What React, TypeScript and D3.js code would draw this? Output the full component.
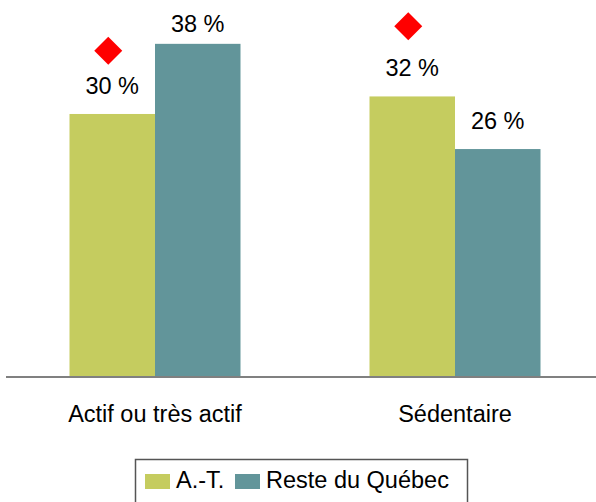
import React from "react";
import * as d3 from "d3";

const categories = ["Actif ou très actif", "Sédentaire"];
const seriesNames = ["A.-T.", "Reste du Québec"];
const atValues = [30, 32];
const resteValues = [38, 26];
const markerValues = [37.2, 40.0];
const colors = ["#C5CC5F", "#62959A"];

const W = 596;
const H = 502;
const FONT = "'Liberation Sans', Arial, sans-serif";

export default function App() {
  const y = d3.scaleLinear().domain([0, 43]).range([377, 0]);
  const x0 = d3.scaleBand<string>().domain(categories).range([5, 605]).padding(0);
  const inner = 171;
  const x1 = d3
    .scaleBand<string>()
    .domain(seriesNames)
    .range([(x0.bandwidth() - inner) / 2, (x0.bandwidth() + inner) / 2])
    .padding(0);
  const series = [atValues, resteValues];
  const diamond = d3.symbol().type(d3.symbolDiamond2).size(500)();

  return (
    <svg
      width={W}
      height={H}
      style={{ position: "absolute", left: 0, top: 0, background: "#fff" }}
      fontFamily={FONT}
    >
      {categories.map((c, ci) => (
        <g key={c} transform={`translate(${x0(c)},0)`}>
          {seriesNames.map((s, si) => {
            const v = series[si][ci];
            const bx = x1(s)!;
            const bw = x1.bandwidth();
            return (
              <g key={s}>
                <rect x={bx} y={y(v)} width={bw} height={y(0) - y(v)} fill={colors[si]} />
                <text
                  x={bx + bw / 2}
                  y={Math.max(y(v) - 20, 32)}
                  textAnchor="middle"
                  fontSize={23.5}
                  fill="#000"
                >
                  {`${v} %`}
                </text>
              </g>
            );
          })}
          <path
            d={diamond!}
            transform={`translate(${x1(seriesNames[0])! + x1.bandwidth() / 2 - 4},${y(markerValues[ci])})`}
            fill="#FF0000"
          />
          <text
            x={x0.bandwidth() / 2}
            y={422}
            textAnchor="middle"
            fontSize={23.5}
            fill="#000"
          >
            {c}
          </text>
        </g>
      ))}
      <line x1={6} x2={596} y1={y(0)} y2={y(0)} stroke="#808080" strokeWidth={2} />
      <rect x={135.5} y={459.5} width={332} height={60} fill="none" stroke="#555" strokeWidth={1.5} />
      {seriesNames.map((s, i) => {
        const lx = [145, 235][i];
        return (
          <g key={s}>
            <rect x={lx} y={474} width={25} height={15} fill={colors[i]} />
            <text x={lx + 31} y={488} fontSize={23.5} fill="#000">
              {s}
            </text>
          </g>
        );
      })}
    </svg>
  );
}
